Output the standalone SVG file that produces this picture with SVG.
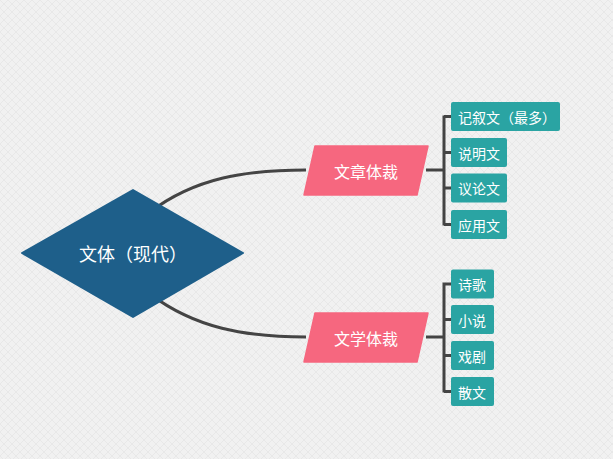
<svg xmlns="http://www.w3.org/2000/svg" width="613" height="459" viewBox="0 0 613 459">
<defs>
<pattern id="bg" width="8" height="8" patternUnits="userSpaceOnUse">
<rect width="8" height="8" fill="#f1f1f1"/>
<path d="M0 8 L8 0 M0 0 L8 8" stroke="#e4e4e4" stroke-width="0.7"/>
</pattern>
<style>
.t{font-family:"Noto Sans CJK SC","Noto Sans",sans-serif;fill:#ffffff;dominant-baseline:central}
.leaf{fill:#2aa4a3}
.sub{fill:#f6677f}
.ln{fill:none;stroke:#444444;stroke-width:3;stroke-linecap:butt}
.br{fill:none;stroke:#444444;stroke-width:3}
</style>
</defs>
<rect width="613" height="459" fill="url(#bg)"/>
<g id="connectors">
<path class="ln" d="M150 212 C195 178 245 170 306 170"/>
<path class="ln" d="M150 294 C195 328 245 337 306 337"/>
<path class="br" d="M426 170 H444 M444 115.5 V225.5 M444 116.5 H452 M444 152.5 H452 M444 188 H452 M444 224.5 H452"/>
<path class="br" d="M426 337 H444 M444 282.5 V392.5 M444 284 H452 M444 319.5 H452 M444 355.5 H452 M444 391.5 H452"/>
</g>
<g id="root">
<path d="M133 190 L243 253 L133 317 L22 253 Z" fill="#1e5f8a" stroke="#1e5f8a" stroke-width="2" stroke-linejoin="round"/>
<text class="t" x="133" y="253" font-size="18" text-anchor="middle">文体（现代）</text>
</g>
<g id="n-wenzhang">
<path class="sub" d="M315 146 L428 146 L417 195 L304 195 Z" stroke="#f6677f" stroke-width="1.5" stroke-linejoin="round"/>
<text class="t" x="366" y="170.5" font-size="16" text-anchor="middle">文章体裁</text>
</g>
<g id="n-wenxue">
<path class="sub" d="M315 313 L428 313 L417 362 L304 362 Z" stroke="#f6677f" stroke-width="1.5" stroke-linejoin="round"/>
<text class="t" x="366" y="337.5" font-size="16" text-anchor="middle">文学体裁</text>
</g>
<g id="n-jixu">
<rect class="leaf" x="451" y="102" width="109" height="29" rx="2"/>
<text class="t" x="458" y="116.5" font-size="14">记叙文（最多）</text>
</g>
<g id="n-shuoming">
<rect class="leaf" x="451" y="138" width="56" height="29" rx="2"/>
<text class="t" x="458" y="152.5" font-size="14">说明文</text>
</g>
<g id="n-yilun">
<rect class="leaf" x="451" y="173.5" width="56" height="29" rx="2"/>
<text class="t" x="458" y="188" font-size="14">议论文</text>
</g>
<g id="n-yingyong">
<rect class="leaf" x="451" y="210" width="56" height="29" rx="2"/>
<text class="t" x="458" y="224.5" font-size="14">应用文</text>
</g>
<g id="n-shige">
<rect class="leaf" x="451" y="269.5" width="43" height="29" rx="2"/>
<text class="t" x="458" y="284" font-size="14">诗歌</text>
</g>
<g id="n-xiaoshuo">
<rect class="leaf" x="451" y="305" width="43" height="29" rx="2"/>
<text class="t" x="458" y="319.5" font-size="14">小说</text>
</g>
<g id="n-xiju">
<rect class="leaf" x="451" y="341" width="43" height="29" rx="2"/>
<text class="t" x="458" y="355.5" font-size="14">戏剧</text>
</g>
<g id="n-sanwen">
<rect class="leaf" x="451" y="377" width="43" height="29" rx="2"/>
<text class="t" x="458" y="391.5" font-size="14">散文</text>
</g>
</svg>
